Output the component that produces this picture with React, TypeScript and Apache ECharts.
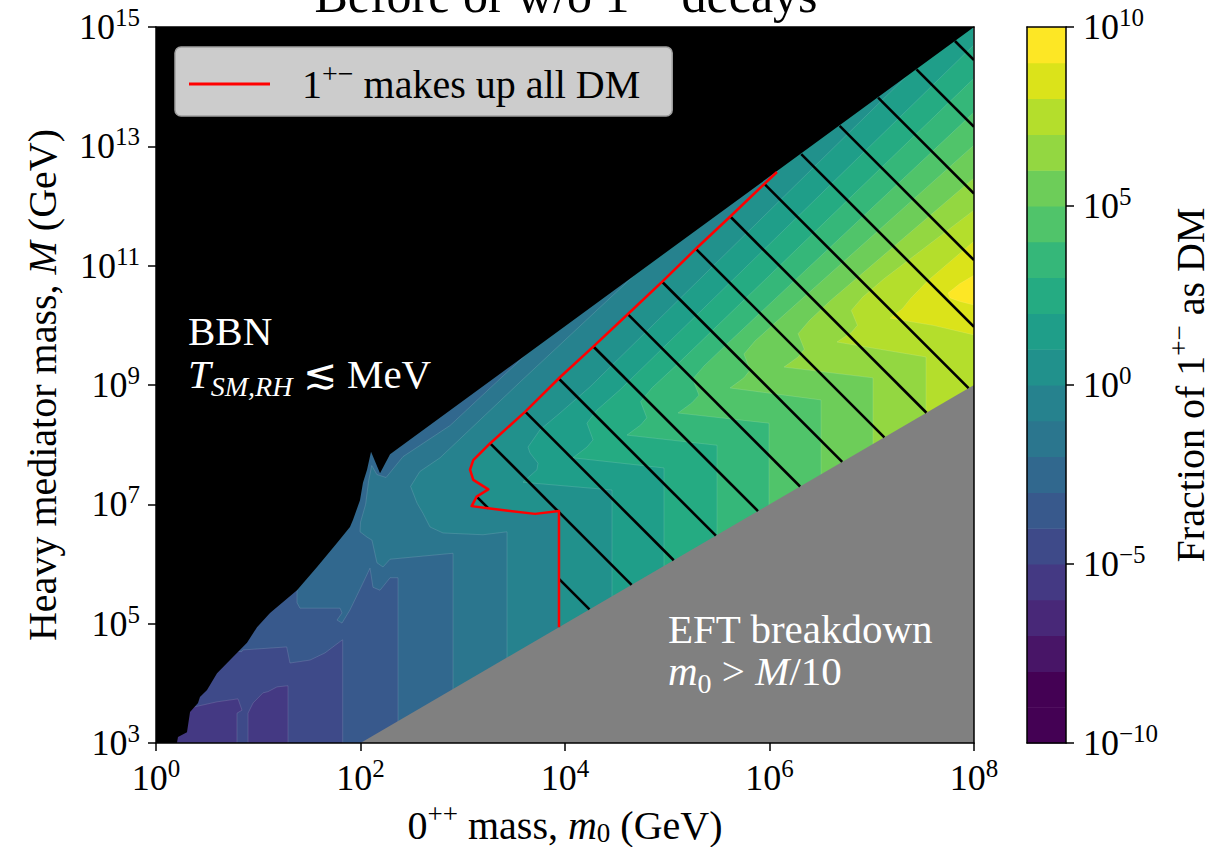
import React, { useEffect, useRef } from 'react';
import * as echarts from 'echarts';

const FONT = "'Liberation Serif', 'DejaVu Serif', serif";

// ---------- data: log10 of masses in GeV, log10 of the DM fraction ----------
const m0Range = [0, 8];
const mRange = [3, 15];
const cbLevels = [-10, -9, -8, -7, -6, -5, -4, -3, -2, -1, 0, 1, 2, 3, 4, 5, 6, 7, 8, 9, 10];
const cbColors = ['#440154', '#440154', '#481567', '#482878', '#443983', '#3E4A89', '#38598C', '#31688E', '#2B768E', '#26828E',
  '#21918C', '#1F9E89', '#25AB82', '#35B779', '#50C46A', '#6DCD59', '#93D741', '#B4DE2C', '#DBE31A', '#FDE725'];

// BBN excluded region (upper left) and EFT breakdown region (m0 > M/10)
const bbnEdge = [[0, 3], [0.205, 3], [0.215, 3.1], [0.303, 3.18], [0.333, 3.52], [0.411, 3.67], [0.43, 3.77], [0.499, 3.89],
  [0.597, 4.17], [0.724, 4.39], [0.89, 4.68], [0.988, 4.94], [1.115, 5.18], [1.379, 5.56], [1.575, 5.95], [1.77, 6.35],
  [1.897, 6.62], [1.927, 6.74], [1.995, 7.07], [2.024, 7.36], [2.064, 7.58], [2.103, 7.88], [2.191, 7.52], [2.289, 7.84],
  [8, 15], [0, 15]];
const eftEdge = [[2, 3], [8, 9], [8, 3]];

// filled contour boundaries (value = 10^level), traced from the BBN/right edge down to the EFT edge
const plotBox = [[0, 3], [8, 3], [8, 15], [0, 15]];
const islandM6a = [[0.1, 3], [0.1, 3.6], [0.362, 3.6], [0.597, 3.69], [0.802, 3.74], [0.841, 3.55], [0.792, 3.5], [0.792, 3]];
const islandM6b = [[0.9, 3], [0.9, 3.5], [0.949, 3.67], [1.046, 3.84], [1.095, 3.86], [1.183, 3.94], [1.291, 3.96], [1.291, 3]];
const levM4 = [[0.75, 4.55], [0.838, 4.53], [0.851, 4.56], [1.278, 4.61], [1.31, 4.34], [1.506, 4.39], [1.653, 4.51], [1.8, 4.7], [1.826, 4.73], [1.826, 3]];
const levM3 = [[1.45, 6.1], [1.379, 5.61], [1.379, 5.35], [1.408, 5.26], [1.8, 5.26], [1.819, 5.18], [1.77, 5.06], [1.819, 5.01],
  [1.897, 5.23], [2.024, 5.68], [2.093, 5.93], [2.122, 5.61], [2.191, 5.56], [2.289, 5.77], [2.367, 5.77], [2.367, 3]];
const levM2 = [[3.75, 9.9], [3.6, 9.48], [2.875, 8.32], [2.416, 7.8], [2.25, 7.45], [2.16, 7.5], [2.11, 7.65], [2.08, 7.4],
  [2.05, 7.0], [2.0, 6.7], [1.995, 6.54], [2.064, 6.45], [2.112, 6.4], [2.161, 6.02], [2.22, 5.95], [2.289, 6.08], [2.905, 6.18], [2.905, 3]];
const levM1 = [[4.8, 11.2], [4.66, 10.81], [3.579, 9.08], [2.778, 7.78], [2.58, 7.55], [2.49, 7.3], [2.553, 7.02], [2.611, 6.85],
  [2.68, 6.62], [2.807, 6.52], [3.198, 6.49], [3.433, 6.54], [3.433, 3]];
const redLine = [[6.073, 12.57], [5.956, 12.38], [5.614, 11.82], [5.291, 11.3], [4.949, 10.73], [4.616, 10.19], [4.274, 9.64],
  [3.951, 9.13], [3.609, 8.55], [3.267, 8.02], [3.103, 7.74], [3.071, 7.58], [3.103, 7.41], [3.25, 7.25], [3.136, 7.13],
  [3.087, 6.97], [3.267, 6.93], [3.707, 6.84], [3.941, 6.89], [3.941, 4.941]];
const lev0 = [[6.2, 12.9], ...redLine, [3.941, 3]];
const lev1 = [[7.45, 14.5], [7.325, 14.15], [4.245, 8.97], [3.951, 8.53], [3.756, 8.25], [3.638, 7.96], [3.658, 7.86], [3.736, 7.69],
  [3.726, 7.58], [3.589, 7.37], [4.46, 7.24], [4.46, 3]];
const lev2 = [[8, 14.7], [4.538, 8.92], [4.313, 8.58], [4.215, 8.36], [4.274, 8.08], [4.215, 7.96], [4.078, 7.78], [4.968, 7.61], [4.968, 3]];
const lev3 = [[8, 14.14], [5.07, 9.3], [4.85, 8.95], [4.74, 8.72], [4.8, 8.45], [4.74, 8.33], [4.606, 8.16], [5.487, 7.99], [5.487, 3]];
const lev4 = [[8, 13.57], [5.58, 9.68], [5.36, 9.32], [5.25, 9.1], [5.31, 8.83], [5.24, 8.7], [5.105, 8.53], [5.995, 8.36], [5.995, 3]];
const lev5 = [[8, 13.02], [6.08, 10.08], [5.86, 9.74], [5.75, 9.52], [5.81, 9.25], [5.75, 9.12], [5.614, 8.95], [6.504, 8.75], [6.504, 3]];
const lev6 = [[8, 12.47], [6.6, 10.42], [6.39, 10.08], [6.28, 9.86], [6.34, 9.6], [6.28, 9.47], [6.142, 9.3], [7.012, 9.12], [7.012, 3]];
const lev7 = [[8, 11.93], [7.12, 10.78], [6.91, 10.47], [6.8, 10.25], [6.86, 10.0], [6.8, 9.88], [6.66, 9.72], [7.531, 9.47], [7.531, 3]];
const lev8 = [[8, 11.41], [7.55, 10.75], [7.38, 10.45], [7.3, 10.28], [7.179, 10.12], [7.6, 10.0], [8, 9.84]];
const lev9 = [[8, 10.84], [7.863, 10.7], [7.746, 10.54], [7.765, 10.46], [7.863, 10.4], [8, 10.34]];

const layers = [
  { band: -5, pts: plotBox, closed: true, line: false },
  { band: -6, pts: islandM6a, closed: true, line: true },
  { band: -6, pts: islandM6b, closed: true, line: true },
  { band: -4, pts: levM4 }, { band: -3, pts: levM3 }, { band: -2, pts: levM2 }, { band: -1, pts: levM1 },
  { band: 0, pts: lev0 }, { band: 1, pts: lev1 }, { band: 2, pts: lev2 }, { band: 3, pts: lev3 },
  { band: 4, pts: lev4 }, { band: 5, pts: lev5 }, { band: 6, pts: lev6 }, { band: 7, pts: lev7 },
  { band: 8, pts: lev8, closed: true, line: true }, { band: 9, pts: lev9, closed: true, line: true },
];
const hatchRegion = [...redLine, [8, 9], [8, 15]];

// ---------- styles ----------
const HATCH_GAP = 66.7;
const HATCH_PHASE = 15.5;
const ink = '#000';
const exp = (v: number) => (v < 0 ? '\u2212' + Math.abs(v) : String(v));
const tickFmt = (v: number) => `{b|10}{s|${exp(v)}}`;
const tickRich = {
  b: { fontFamily: FONT, fontSize: 36, lineHeight: 40, color: ink },
  s: { fontFamily: FONT, fontSize: 25, color: ink, verticalAlign: 'top', height: 21 },
};
const nameRich = {
  r: { fontFamily: FONT, fontSize: 40, lineHeight: 40, color: ink },
  i: { fontFamily: FONT, fontSize: 40, lineHeight: 40, fontStyle: 'italic', color: ink },
  sup: { fontFamily: FONT, fontSize: 27, color: ink, verticalAlign: 'top', height: 18 },
  sub: { fontFamily: FONT, fontSize: 27, color: ink, verticalAlign: 'bottom', height: 24 },
};
const white = (o: any) => ({ fontFamily: FONT, fill: '#fff', color: '#fff', ...o });
const annRich = {
  r: white({ fontSize: 41, lineHeight: 44 }),
  i: white({ fontSize: 41, lineHeight: 44, fontStyle: 'italic' }),
  si: white({ fontSize: 28, fontStyle: 'italic', verticalAlign: 'bottom', height: 20 }),
  s: white({ fontSize: 28, verticalAlign: 'bottom', height: 20 }),
};
const titleRich = {
  r: { fontFamily: FONT, fontSize: 50, lineHeight: 56, fill: ink, color: ink },
  sup: { fontFamily: FONT, fontSize: 35, fill: ink, color: ink, verticalAlign: 'top', height: 27 },
};
const spine = { show: true, onZero: false, lineStyle: { color: ink, width: 1.5 } };
const tick = { show: true, inside: false, length: 8, lineStyle: { color: ink, width: 1.5 } };
const bare = (extra: any) => ({
  type: 'value', z: 10, axisLine: spine, axisTick: { show: false }, axisLabel: { show: false }, splitLine: { show: false }, ...extra,
});

const LEGEND_NAME = '1+\u2212 makes up all DM';

function buildOption() {
  return {
    animation: false,
    backgroundColor: '#fff',
    grid: [
      { left: 156, top: 27, width: 818, height: 716, containLabel: false, outerBoundsMode: 'none' },
      { left: 1027, top: 27, width: 39, height: 716, containLabel: false, outerBoundsMode: 'none' },
    ],
    xAxis: [
      {
        gridIndex: 0, type: 'value', min: m0Range[0], max: m0Range[1], interval: 2, position: 'bottom', z: 10,
        axisLine: spine, axisTick: tick, splitLine: { show: false },
        axisLabel: { formatter: tickFmt, rich: tickRich, margin: 15 },
        name: '{r|0}{sup|++}{r| mass, }{i|m}{sub|0}{r| (GeV)}', nameLocation: 'middle', nameGap: 53,
        nameTextStyle: { rich: nameRich },
      },
      bare({ gridIndex: 0, min: m0Range[0], max: m0Range[1], position: 'top' }),
      bare({ gridIndex: 1, min: 0, max: 1, position: 'bottom' }),
      bare({ gridIndex: 1, min: 0, max: 1, position: 'top' }),
    ],
    yAxis: [
      {
        gridIndex: 0, type: 'value', min: mRange[0], max: mRange[1], interval: 2, position: 'left', z: 10,
        axisLine: spine, axisTick: tick, splitLine: { show: false },
        axisLabel: { formatter: tickFmt, rich: tickRich, margin: 16 },
        name: '{r|Heavy mediator mass, }{i|M}{r| (GeV)}', nameLocation: 'middle', nameGap: 94,
        nameTextStyle: { rich: nameRich },
      },
      bare({ gridIndex: 0, min: mRange[0], max: mRange[1], position: 'right' }),
      bare({ gridIndex: 1, min: -10, max: 10, position: 'left' }),
      {
        gridIndex: 1, type: 'value', min: cbLevels[0], max: cbLevels[cbLevels.length - 1], interval: 5, position: 'right', z: 10,
        axisLine: spine, axisTick: tick, splitLine: { show: false },
        axisLabel: { formatter: tickFmt, rich: tickRich, margin: 17 },
        name: '{r|Fraction of 1}{sup|+\u2212}{r| as DM}', nameLocation: 'middle', nameGap: 104,
        nameTextStyle: { rich: nameRich },
      },
    ],
    legend: {
      left: 175, top: 47, padding: [12, 32, 12, 14], itemWidth: 81, itemHeight: 3, itemGap: 0,
      icon: 'rect', selectedMode: false,
      backgroundColor: '#cccccc', borderColor: '#a0a0a0', borderWidth: 1.5, borderRadius: 6,
      data: [LEGEND_NAME],
      formatter: () => '{a|1}{s|+\u2212}{b| makes up all DM}',
      textStyle: {
        rich: {
          a: { fontFamily: FONT, fontSize: 40, lineHeight: 44, color: ink, padding: [0, 0, 0, 27] },
          b: { fontFamily: FONT, fontSize: 40, lineHeight: 44, color: ink },
          s: { fontFamily: FONT, fontSize: 28, color: ink, verticalAlign: 'top', height: 22 },
        },
      },
    },
    graphic: [
      {
        type: 'text', x: 566, y: -5, z: 100,
        style: { text: '{r|Before or w/o 1}{sup|+\u2212}{r| decays}', rich: titleRich, align: 'center', verticalAlign: 'middle', textAlign: 'center', textVerticalAlign: 'middle' },
      },
      { type: 'text', x: 188, y: 331, z: 100, style: { text: '{r|BBN}', rich: annRich, align: 'left', verticalAlign: 'middle', textVerticalAlign: 'middle' } },
      { type: 'text', x: 188, y: 374, z: 100, style: { text: '{i|T}{si|SM,RH}{r| \u2272 MeV}', rich: annRich, align: 'left', verticalAlign: 'middle', textVerticalAlign: 'middle' } },
      { type: 'text', x: 668, y: 629, z: 100, style: { text: '{r|EFT breakdown}', rich: annRich, align: 'left', verticalAlign: 'middle', textVerticalAlign: 'middle' } },
      { type: 'text', x: 668, y: 671, z: 100, style: { text: '{i|m}{s|0}{r| > }{i|M}{r|/10}', rich: annRich, align: 'left', verticalAlign: 'middle', textVerticalAlign: 'middle' } },
    ],
    series: [
      {
        type: 'custom', name: 'field', xAxisIndex: 0, yAxisIndex: 0, clip: true, silent: true, z: 2,
        data: layers.map((l) => [l.band]),
        renderItem: (params: any, api: any) => {
          const l: any = layers[params.dataIndex];
          const pts = l.closed ? l.pts : [[l.pts[0][0], mRange[1]], ...l.pts, [m0Range[1], mRange[0]], [m0Range[1], mRange[1]]];
          return {
            type: 'polygon',
            shape: { points: pts.map((p: number[]) => api.coord(p)) },
            style: { fill: cbColors[l.band + 10], stroke: l.line === false ? null : 'rgba(255,255,255,0.22)', lineWidth: 0.6 },
          };
        },
      },
      {
        type: 'custom', name: 'regions', xAxisIndex: 0, yAxisIndex: 0, clip: true, silent: true, z: 3,
        data: [[0], [1]],
        renderItem: (params: any, api: any) => {
          const pts = params.dataIndex === 0 ? bbnEdge : eftEdge;
          return {
            type: 'polygon', shape: { points: pts.map((p) => api.coord(p)) },
            style: { fill: params.dataIndex === 0 ? '#000000' : '#808080' },
          };
        },
      },
      {
        type: 'custom', name: 'hatch', xAxisIndex: 0, yAxisIndex: 0, clip: true, silent: true, z: 4,
        data: [[0]],
        renderItem: (params: any, api: any) => {
          const poly = hatchRegion.map((p) => api.coord(p));
          const tl = api.coord([m0Range[0], mRange[1]]);
          const br = api.coord([m0Range[1], mRange[0]]);
          const c0 = tl[1] - tl[0] + HATCH_PHASE;
          const cMin = tl[1] - br[0];
          const cMax = br[1] - tl[0];
          const children: any[] = [];
          let c = c0 + Math.ceil((cMin - c0) / HATCH_GAP) * HATCH_GAP;
          for (; c <= cMax; c += HATCH_GAP) {
            const xs: number[] = [];
            for (let i = 0; i < poly.length; i++) {
              const a = poly[i];
              const b = poly[(i + 1) % poly.length];
              const fa = a[1] - a[0] - c;
              const fb = b[1] - b[0] - c;
              if ((fa < 0) !== (fb < 0)) {
                const t = fa / (fa - fb);
                xs.push(a[0] + t * (b[0] - a[0]));
              }
            }
            xs.sort((p, q) => p - q);
            for (let k = 0; k + 1 < xs.length; k += 2) {
              children.push({
                type: 'line',
                shape: { x1: xs[k], y1: xs[k] + c, x2: xs[k + 1], y2: xs[k + 1] + c },
                style: { stroke: '#000', lineWidth: 2.6 },
              });
            }
          }
          return { type: 'group', children };
        },
      },
      {
        type: 'line', name: LEGEND_NAME, xAxisIndex: 0, yAxisIndex: 0, z: 5, clip: true,
        data: redLine, symbol: 'none', showSymbol: false, color: '#ff0000',
        itemStyle: { color: '#ff0000' },
        lineStyle: { color: '#ff0000', width: 2.5, join: 'round' },
      },
      {
        type: 'custom', name: 'colorbar', xAxisIndex: 2, yAxisIndex: 3, silent: true, z: 2,
        data: cbLevels.slice(0, -1).map((lo, i) => [lo, cbLevels[i + 1]]),
        renderItem: (params: any, api: any) => {
          const lo = api.value(0);
          const hi = api.value(1);
          const p0 = api.coord([0, hi]);
          const p1 = api.coord([1, lo]);
          return {
            type: 'rect',
            shape: { x: p0[0], y: p0[1], width: p1[0] - p0[0], height: p1[1] - p0[1] + 0.5 },
            style: { fill: cbColors[params.dataIndex] },
          };
        },
      },
    ],
  };
}

export default function App() {
  const ref = useRef<HTMLDivElement>(null);
  useEffect(() => {
    if (!ref.current) return;
    const chart = echarts.init(ref.current, null, { renderer: 'svg' });
    chart.setOption(buildOption() as any);
    return () => chart.dispose();
  }, []);
  return (
    <div
      ref={ref}
      style={{ position: 'fixed', left: 0, top: 0, width: 1226, height: 847, background: '#fff' }}
    />
  );
}
